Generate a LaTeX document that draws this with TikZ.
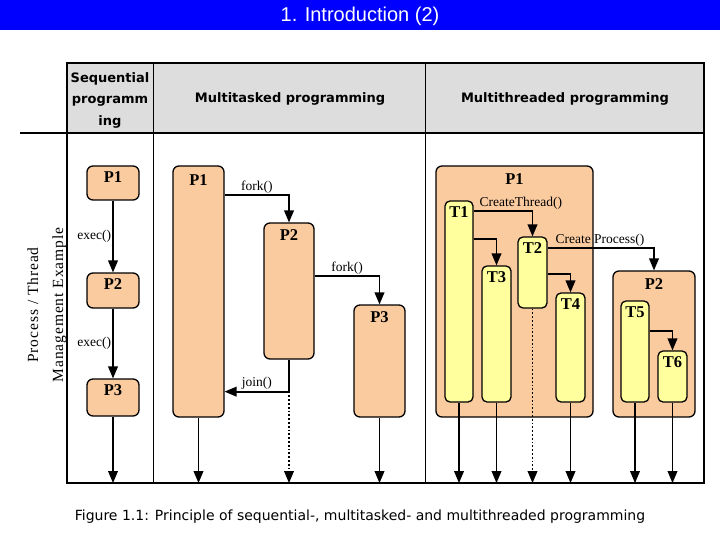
\documentclass[tikz,border=0pt]{standalone}
\usepackage{fontspec}
\setmainfont{Liberation Serif}
\newfontfamily\titleFont{Liberation Sans}
\newfontfamily\headFont{DejaVu Sans}
\newfontfamily\sideFont[LetterSpace=6]{Liberation Serif}
\usepackage{tikz}
\usetikzlibrary{arrows}

\begin{document}
\begin{tikzpicture}[x=1pt,y=-1pt,
  procBox/.style={draw,line width=1.3pt,rounded corners=6pt,fill=procColor,inner sep=0pt},
  thrBox/.style={draw,line width=1.3pt,rounded corners=5pt,fill=thrColor,inner sep=0pt},
  callArrow/.style={->,>=triangle 45,line width=1.8pt},
  callText/.style={font=\fontsize{13.5}{15}\selectfont,inner sep=1pt},
  boxText/.style={font=\fontsize{16.5}{18}\selectfont\bfseries,inner sep=0pt,anchor=north,yshift=-7pt},
  headText/.style={font=\headFont\bfseries\fontsize{13}{21.5}\selectfont,align=center}]
\definecolor{titleColor}{RGB}{0,0,255}
\definecolor{headColor}{RGB}{221,221,221}
\definecolor{procColor}{RGB}{251,203,160}
\definecolor{thrColor}{RGB}{255,255,158}
\useasboundingbox (0,0) rectangle (720,540);

% title bar
\fill[titleColor] (0,0) rectangle (720,30);
\node[font=\titleFont\fontsize{20}{24}\selectfont,text=white] (title) at (360,16) {1. Introduction (2)};

% table
\fill[headColor] (67,63) rectangle (704,133);
\draw[line width=1.6pt] (67,63) rectangle (704,483);
\draw[line width=1.8pt] (20,133) -- (704,133);
\foreach \x in {153,425}
  \draw[line width=0.8pt] (\x,63) -- (\x,483);
\coordinate (base) at (0,483);

\node[headText] (hdSeq) at (110,100) {Sequential\\programm\\ing};
\node[headText] (hdTask) at (290,99) {Multitasked programming};
\node[headText] (hdThread) at (565,99) {Multithreaded programming};
\node[rotate=90,align=center,font=\sideFont\fontsize{15.5}{25}\selectfont] (side) at (47,305) {Process / Thread\\Management Example};

% sequential
\node[procBox,minimum width=52pt,minimum height=34pt,label={[boxText,yshift=1pt]north:P1}] (sP1) at (113,183) {};
\node[procBox,minimum width=52pt,minimum height=35pt,label={[boxText,yshift=1pt]north:P2}] (sP2) at (113,290.5) {};
\node[procBox,minimum width=52pt,minimum height=37pt,label={[boxText,yshift=1pt]north:P3}] (sP3) at (113,397.5) {};
\draw[callArrow] (sP1) -- node[left,callText]{exec()} (sP2);
\draw[callArrow] (sP2) -- node[left,callText]{exec()} (sP3);

% multitasked
\node[procBox,minimum width=51pt,minimum height=251pt,label={[boxText,yshift=-2pt]north:P1}] (mP1) at (198.5,291.5) {};
\node[procBox,minimum width=50pt,minimum height=136pt,label={[boxText]north:P2}] (mP2) at (289,291) {};
\node[procBox,minimum width=51pt,minimum height=112pt,label={[boxText]north:P3}] (mP3) at (379.5,361) {};
\draw[callArrow] ([yshift=-30pt]mP1.north east) -| node[pos=0.25,above,callText]{fork()} (mP2.north);
\draw[callArrow] ([yshift=-54pt]mP2.north east) -| node[pos=0.25,above,callText]{fork()} (mP3.north);
\coordinate (jn) at ([yshift=-32pt]mP2.south);
\draw[callArrow] (mP2.south) -- (jn) -- node[above,callText]{join()} (jn -| mP1.east);
\draw[callArrow,dotted] (jn) -- (jn |- base);

% multithreaded
\node[procBox,minimum width=157pt,minimum height=251pt,label={[boxText,yshift=-1pt]north:P1}] (tP1) at (514.5,291.5) {};
\node[procBox,minimum width=82pt,minimum height=146pt,label={[boxText,yshift=-1pt]north:P2}] (tP2) at (654,344) {};
\node[thrBox,minimum width=28pt,minimum height=201pt,label={[boxText,yshift=1pt]north:T1}] (T1) at (459,301.5) {};
\node[thrBox,minimum width=29pt,minimum height=71pt,label={[boxText,yshift=1pt]north:T2}] (T2) at (532.5,272.5) {};
\node[thrBox,minimum width=29pt,minimum height=136pt,label={[boxText,yshift=1pt]north:T3}] (T3) at (496.5,334) {};
\node[thrBox,minimum width=29pt,minimum height=109pt,label={[boxText,yshift=1pt]north:T4}] (T4) at (570.5,347.5) {};
\node[thrBox,minimum width=28pt,minimum height=101pt,label={[boxText,yshift=1pt]north:T5}] (T5) at (635,351.5) {};
\node[thrBox,minimum width=29pt,minimum height=51pt,label={[boxText,yshift=1pt]north:T6}] (T6) at (672.5,376.5) {};
\draw[callArrow] ([yshift=-11pt]T1.north east) node[above right,xshift=4pt,callText]{CreateThread()} -| (T2.north);
\draw[callArrow] ([yshift=-39pt]T1.north east) -| (T3.north);
\draw[callArrow] ([yshift=-12pt]T2.north east) node[above right,xshift=6pt,callText]{Create Process()} -| (tP2.north);
\draw[callArrow] ([yshift=-38pt]T2.north east) -| (T4.north);
\draw[callArrow] ([yshift=-31pt]T5.north east) -| (T6.north);

% ends of all lines
\foreach \b in {sP3,mP1,mP3,T1,T3,T4,T5,T6}
  \draw[callArrow] (\b.south) -- (\b.south |- base);
\draw[callArrow,dotted] (T2.south) -- (T2.south |- base);

\node[font=\headFont\fontsize{14}{17}\selectfont] (caption) at (360,517) {Figure 1.1: Principle of sequential-, multitasked- and multithreaded programming};
\end{tikzpicture}
\end{document}
